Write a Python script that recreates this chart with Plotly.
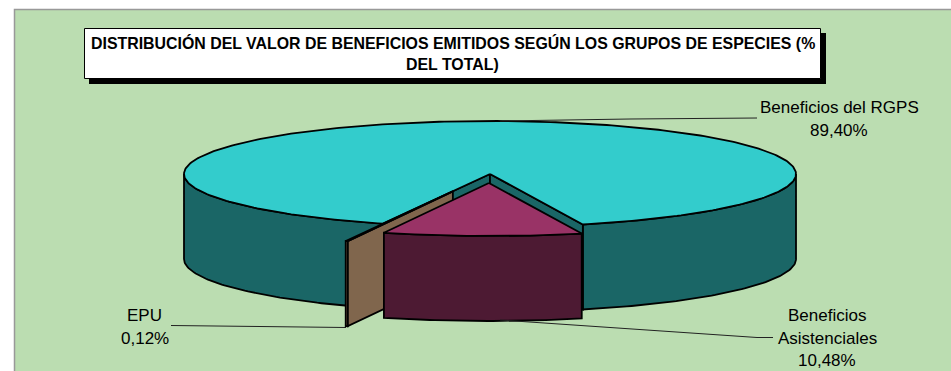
import math
import plotly.graph_objects as go

# datos
categorias = ["Beneficios del RGPS", "Beneficios Asistenciales", "EPU"]
valores = [89.40, 10.48, 0.12]
etiquetas = ["89,40%", "10,48%", "0,12%"]
titulo = ["DISTRIBUCIÓN DEL VALOR DE BENEFICIOS EMITIDOS SEGÚN LOS GRUPOS DE ESPECIES (%",
          "DEL TOTAL)"]

color_top = ["#33CCCC", "#993366", "#FFCC99"]
color_side = ["#1A6666", "#4D1A33", "#80664D"]
explode = [0, 0.17, 0.35]

W, H = 951, 371
cx, cy = 490, 174
rx, ry = 306, 53
depth = 85
first_angle = 200.5  # grados, sentido horario desde arriba
FONT = "Liberation Sans"

# angulos de cada sector a partir de los valores
total = sum(valores)
sectores = []
ang = first_angle
for v, ex in zip(valores, explode):
    fin = ang + v / total * 360
    mid = math.radians((ang + fin) / 2)
    sectores.append((ang, fin, rx * ex * math.sin(mid), -ry * ex * math.cos(mid)))
    ang = fin


def rim(a, ox, oy, dz=0):
    t = math.radians(a)
    return cx + ox + rx * math.sin(t), cy + oy - ry * math.cos(t) + dz


def arc(a0, a1, ox, oy, dz=0):
    n = max(2, int(abs(a1 - a0)) + 2)
    return [rim(a0 + (a1 - a0) * i / (n - 1), ox, oy, dz) for i in range(n)]


fig = go.Figure()


def poly(pts, color):
    xs = [p[0] for p in pts] + [pts[0][0]]
    ys = [p[1] for p in pts] + [pts[0][1]]
    fig.add_trace(go.Scatter(x=xs, y=ys, mode="lines", fill="toself", fillcolor=color,
                             line=dict(color="black", width=1.8), hoverinfo="skip", showlegend=False))


def outer_wall(a0, a1, ox, oy, color):
    # solo la parte delantera (90-270) se ve
    for k in (0, 360):
        lo, hi = max(a0, 90 + k), min(a1, 270 + k)
        if lo < hi:
            poly(arc(lo, hi, ox, oy) + arc(hi, lo, ox, oy, depth), color)


def cut_wall(a, ox, oy, color):
    c = (cx + ox, cy + oy)
    r = rim(a, ox, oy)
    poly([c, r, (r[0], r[1] + depth), (c[0], c[1] + depth)], color)


def top(a0, a1, ox, oy, color):
    poly([(cx + ox, cy + oy)] + arc(a0, a1, ox, oy), color)


# RGPS
a0, a1, ox, oy = sectores[0]
outer_wall(a0, a1, ox, oy, color_side[0])
cut_wall(a0, ox, oy, color_side[0])
cut_wall(a1, ox, oy, color_side[0])
top(a0, a1, ox, oy, color_top[0])

# EPU
a0, a1, ox, oy = sectores[2]
outer_wall(a0, a1, ox, oy, color_side[2])
cut_wall(a0, ox, oy, color_side[2])
top(a0, a1, ox, oy, color_top[2])

# Asistenciales
a0, a1, ox, oy = sectores[1]
outer_wall(a0, a1, ox, oy, color_side[1])
top(a0, a1, ox, oy, color_top[1])

# lineas guia
guias = [([757, 630, 500], [118, 119, 121]),
         ([773, 757, 500], [337.5, 337.5, 320]),
         ([171, 346], [325.5, 327.5])]
for gx, gy in guias:
    fig.add_trace(go.Scatter(x=gx, y=gy, mode="lines", line=dict(color="#222222", width=1),
                             hoverinfo="skip", showlegend=False))

shapes = [
    dict(type="rect", xref="x", yref="y", x0=14.5, y0=9.5, x1=W + 5, y1=H + 5, layer="below",
         fillcolor="#BBDDB1", line=dict(color="#999999", width=1.5)),
    dict(type="rect", xref="x", yref="y", x0=89, y0=33, x1=826, y1=84, layer="below",
         fillcolor="black", line=dict(width=0)),
    dict(type="rect", xref="x", yref="y", x0=84.5, y0=28.5, x1=820.5, y1=78.5, layer="below",
         fillcolor="white", line=dict(color="black", width=1)),
]


def texto(x, y, s, size, bold=False):
    return dict(x=x, y=y, xref="x", yref="y", text=f"<b>{s}</b>" if bold else s, showarrow=False,
                xanchor="center", yanchor="middle", font=dict(family=FONT, size=size, color="black"))


annotations = [
    texto(452.5, 42.5, titulo[0], 15.9, True),
    texto(452.5, 64.5, titulo[1], 15.9, True),
    texto(839, 107, categorias[0], 17),
    texto(839, 130, etiquetas[0], 17),
    texto(827, 315, "Beneficios", 17),
    texto(827, 338, "Asistenciales", 17),
    texto(827, 360, etiquetas[1], 17),
    texto(144.5, 315, categorias[2], 17),
    texto(144.5, 338, etiquetas[2], 17),
]

fig.update_layout(
    width=W, height=H, margin=dict(l=0, r=0, t=0, b=0),
    paper_bgcolor="white", plot_bgcolor="white",
    xaxis=dict(range=[0, W], visible=False, fixedrange=True),
    yaxis=dict(range=[H, 0], visible=False, fixedrange=True),
    shapes=shapes, annotations=annotations, showlegend=False,
)
# sin el margen por defecto del body
fig.write_html("out.html", config=dict(displayModeBar=False),
               post_script="document.body.style.margin='0';document.documentElement.style.overflow='hidden';")
